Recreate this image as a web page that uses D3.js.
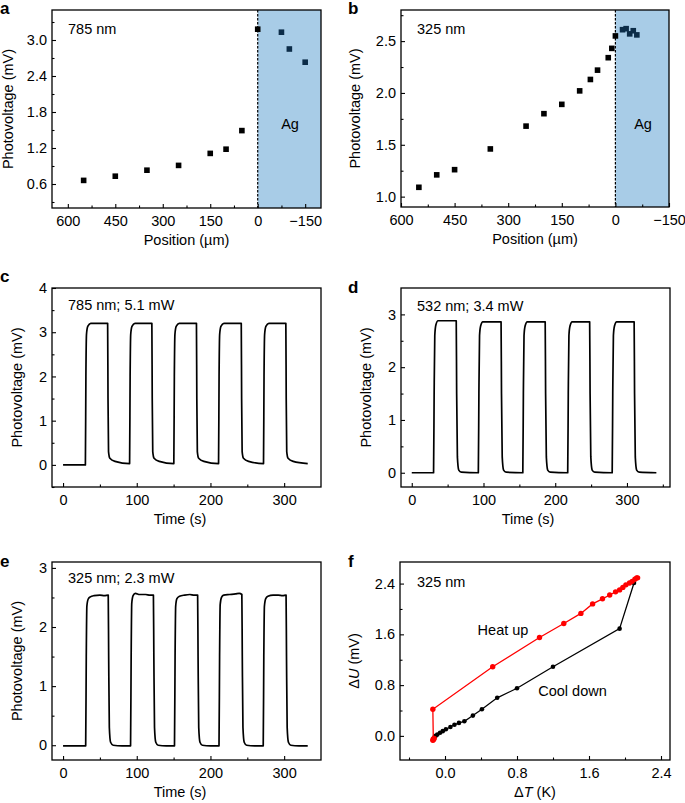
<!DOCTYPE html>
<html lang="en">
<head>
  <meta charset="UTF-8">
  <title>Photovoltage</title>
  <script src="https://cdnjs.cloudflare.com/ajax/libs/d3/7.8.5/d3.min.js"></script>
  <style>
    body { margin: 0; background: #fff; }
    text { font-family: "Liberation Sans", Arial, Helvetica, sans-serif; }
  </style>
</head>
<body>
  <script>
// ---- data ----
// a: 785 nm position scan
var posA = [550, 450, 350, 250, 150, 100, 50, 0, -75, -100, -150];
var pvA  = [0.66, 0.73, 0.83, 0.91, 1.11, 1.18, 1.49, 3.18, 3.13, 2.85, 2.63];

// b: 325 nm position scan
var posB = [550, 500, 450, 350, 250, 200, 150, 100, 70, 50, 20, 10, 0, -20, -30, -40, -50, -60];
var pvB  = [1.09, 1.21, 1.26, 1.46, 1.68, 1.80, 1.89, 2.02, 2.13, 2.22, 2.34, 2.43, 2.55, 2.61, 2.62, 2.57, 2.60, 2.56];

// c: 785 nm; 5.1 mW  [time s, photovoltage mV]
var traceC = [[0,0],[30.3,0],
  [31,2.0],[31.8,2.95],[33.5,3.13],[37.5,3.2],[60.5,3.2],[61,1.5],[61.7,0.3],[63.5,0.15],[70.5,0.08],[90.3,0.03],
  [91,2.0],[91.8,2.95],[93.5,3.13],[97.5,3.2],[120.5,3.2],[121,1.5],[121.7,0.3],[123.5,0.15],[130.5,0.08],[150.3,0.03],
  [151,2.0],[151.8,2.95],[153.5,3.13],[157.5,3.2],[181,3.2],[181.5,1.5],[182.2,0.3],[184,0.15],[191,0.08],[211,0.03],
  [211.7,2.0],[212.5,2.95],[214.2,3.13],[218.2,3.2],[241.8,3.2],[242.3,1.5],[243,0.3],[244.8,0.15],[251.8,0.08],[272,0.03],
  [272.7,2.0],[273.5,2.95],[275.2,3.13],[279.2,3.2],[302.3,3.2],[302.8,1.5],[303.5,0.3],[305.3,0.15],[312.3,0.08],[332,0.03]];

// d: 532 nm; 3.4 mW
var traceD = [[0,0],[30.4,0],
  [31.2,1.5],[32.1,2.6],[33.6,2.8],[36.6,2.88],[62,2.88],[62.6,1.5],[63.6,0.3],[65.5,0.05],[69,0.01],[92.8,0],
  [93.6,1.5],[94.5,2.6],[96,2.78],[99,2.86],[124.5,2.86],[125.1,1.5],[126.1,0.3],[128,0.05],[131.5,0.01],[154.8,0],
  [155.6,1.5],[156.5,2.6],[158,2.78],[161,2.86],[186,2.86],[186.6,1.5],[187.6,0.3],[189.5,0.05],[193,0.01],[217.4,0],
  [218.2,1.5],[219.1,2.6],[220.6,2.78],[223.6,2.86],[248,2.86],[248.6,1.5],[249.6,0.3],[251.5,0.05],[255,0.01],[279.4,0],
  [280.2,1.5],[281.1,2.6],[282.6,2.78],[285.6,2.86],[310,2.86],[310.6,1.5],[311.6,0.3],[313.5,0.05],[317,0.01],[341,0]];

// e: 325 nm; 2.3 mW
var traceE = [[0,-0.01],[30.7,-0.01],
  [31.5,1.5],[32.3,2.35],[34,2.47],[37,2.51],[42,2.53],[50,2.54],[56,2.53],[61.3,2.54],[61.9,1.5],[62.8,0.3],[64.5,0.05],[68,0],[80,-0.01],[91.6,-0.01],
  [92.4,1.5],[93.2,2.4],[95,2.53],[98,2.57],[104,2.55],[112,2.55],[118,2.54],[122.6,2.54],[123.2,1.5],[124.1,0.3],[125.8,0.05],[129,0],[140,-0.01],[151.2,-0.01],
  [152,1.5],[152.8,2.35],[154.5,2.48],[158,2.52],[165,2.54],[172,2.55],[178,2.54],[182.6,2.54],[183.2,1.5],[184.1,0.3],[185.8,0.05],[189,0],[200,-0.01],[211.6,-0.01],
  [212.4,1.5],[213.2,2.38],[215,2.5],[218,2.54],[226,2.55],[234,2.56],[239,2.57],[242.6,2.55],[243.2,1.5],[244.1,0.3],[245.8,0.05],[249,0],[260,-0.01],[271.6,-0.01],
  [272.4,1.5],[273.2,2.35],[275,2.48],[278,2.52],[285,2.54],[292,2.54],[298,2.53],[302.6,2.54],[303.2,1.5],[304.1,0.3],[305.8,0.05],[309,0],[320,-0.01],[332,-0.01]];

// f: 325 nm, dU vs dT  [dT K, dU mV]
var heatUp = [[-0.12,-0.04],[-0.13,-0.06],[-0.135,-0.07],[-0.13,-0.05],[-0.135,0.42],[0.53,1.09],[1.05,1.55],
  [1.32,1.77],[1.51,1.93],[1.64,2.08],[1.75,2.16],[1.83,2.22],[1.895,2.27],[1.94,2.30],[1.976,2.34],[2.01,2.38],
  [2.05,2.41],[2.08,2.435],[2.11,2.47],[2.13,2.49],[2.14,2.49]];
var coolDown = [[2.10,2.41],[1.94,1.69],[1.20,1.09],[0.80,0.75],[0.58,0.60],[0.41,0.42],[0.31,0.32],[0.215,0.23],
  [0.155,0.205],[0.105,0.175],[0.06,0.14],[0.01,0.105],[-0.025,0.075],[-0.055,0.05],[-0.085,0.02],[-0.105,0.0],[-0.115,-0.015]];

// ---- tick labels ----
var posTicks = [600, 450, 300, 150, 0, -150], posMinor = [525, 375, 225, 75, -75];
var ticksYA = [0.6, 1.2, 1.8, 2.4, 3.0], minorYA = [0.3, 0.9, 1.5, 2.1, 2.7, 3.3];
var ticksYB = [1.0, 1.5, 2.0, 2.5], minorYB = [1.25, 1.75, 2.25, 2.75];
var timeTicks = [0, 100, 200, 300], timeMinor = [50, 150, 250];
var ticksF = [0.0, 0.8, 1.6, 2.4];

var FS = 14.5;
var svg = d3.select("body").append("svg")
    .attr("width", 685)
    .attr("height", 803);

var fmtPos = function(d) { return d < 0 ? "\u2212" + Math.abs(d) : d; };

function panel(o) {
  var g = svg.append("g").attr("transform", "translate(" + o.left + "," + o.top + ")");
  var x = d3.scaleLinear().domain(o.xd).range([0, o.w]);
  var y = d3.scaleLinear().domain(o.yd).range([o.h, 0]);
  var marks = g.append("g");

  function ax(sel) {
    sel.select(".domain").remove();
    sel.attr("font-size", FS).attr("font-family", null);
    sel.selectAll("line").attr("stroke-width", 1.1);
  }
  g.append("g").attr("transform", "translate(0," + o.h + ")")
    .call(d3.axisBottom(x).tickValues(o.xt).tickFormat(o.xf).tickSizeInner(-4).tickSizeOuter(0).tickPadding(8))
    .call(ax);
  g.append("g").attr("transform", "translate(0," + o.h + ")")
    .call(d3.axisBottom(x).tickValues(o.xm).tickFormat("").tickSizeInner(-2.5).tickSizeOuter(0))
    .call(ax);
  g.append("g")
    .call(d3.axisLeft(y).tickValues(o.yt).tickFormat(o.yf).tickSizeInner(-4).tickSizeOuter(0).tickPadding(5))
    .call(ax);
  g.append("g")
    .call(d3.axisLeft(y).tickValues(o.ym).tickFormat("").tickSizeInner(-2.5).tickSizeOuter(0))
    .call(ax);

  g.append("text").attr("x", o.xlx == null ? o.w / 2 : o.xlx).attr("y", o.h + 37)
    .attr("text-anchor", "middle").attr("font-size", FS).html(o.xl);
  g.append("text").attr("transform", "translate(" + o.ylx + "," + (o.h / 2) + ") rotate(-90)")
    .attr("text-anchor", "middle").attr("font-size", FS).html(o.yl);
  g.append("text").attr("x", o.tx).attr("y", o.ty).attr("font-size", FS).text(o.title);
  svg.append("text").attr("x", o.lx).attr("y", o.ly).attr("font-size", 17)
    .attr("font-weight", "bold").text(o.letter);

  return {g: g, x: x, y: y, marks: marks, o: o};
}

function frame(p) {
  p.g.append("rect").attr("width", p.o.w).attr("height", p.o.h)
    .attr("fill", "none").attr("stroke", "#000").attr("stroke-width", 1.3);
}

function scan(p, pos, pv, agX, agY) {
  var x = p.x, y = p.y;
  p.marks.append("rect").attr("x", x(0)).attr("y", 0)
    .attr("width", p.o.w - x(0)).attr("height", p.o.h).attr("fill", "#a8cce7");
  p.marks.append("line").attr("x1", x(0)).attr("x2", x(0)).attr("y1", 0).attr("y2", p.o.h)
    .attr("stroke", "#000").attr("stroke-width", 1.2).attr("stroke-dasharray", "2.5,1.5");
  p.marks.selectAll("rect.pt").data(pos).enter().append("rect").attr("class", "pt")
    .attr("x", function(d) { return x(d) - 2.8; })
    .attr("y", function(d, i) { return y(pv[i]) - 2.8; })
    .attr("width", 5.6).attr("height", 5.6)
    .attr("fill", function(d) { return d < 0 ? "#0c2c48" : "#000"; });
  p.g.append("text").attr("x", agX).attr("y", agY).attr("text-anchor", "middle")
    .attr("font-size", FS).text("Ag");
  frame(p);
}

function trace(p, data) {
  var line = d3.line().x(function(d) { return p.x(d[0]); }).y(function(d) { return p.y(d[1]); })
    .curve(d3.curveMonotoneX);
  p.marks.append("path").datum(data).attr("d", line)
    .attr("fill", "none").attr("stroke", "#000").attr("stroke-width", 1.7).attr("stroke-linejoin", "round");
  frame(p);
}

var pvLabel = "Photovoltage (mV)";
var timeLabel = "Time (s)";

// a
var pa = panel({left: 52, top: 10, w: 269, h: 198, xd: [650, -200], yd: [0.2, 3.5],
  xt: posTicks, xm: posMinor, xf: fmtPos, yt: ticksYA, ym: minorYA, yf: d3.format(".1f"),
  xl: "Position (\u00b5m)", yl: pvLabel, ylx: -39.5, title: "785 nm", tx: 16, ty: 24,
  letter: "a", lx: 0, ly: 14});
scan(pa, posA, pvA, 238, 119);

// b
var pb = panel({left: 401, top: 10, w: 268, h: 197, xd: [600, -150], yd: [0.9, 2.8],
  xt: posTicks, xm: posMinor, xf: fmtPos, yt: ticksYB, ym: minorYB, yf: d3.format(".1f"),
  xl: "Position (\u00b5m)", yl: pvLabel, ylx: -41.5, title: "325 nm", tx: 16, ty: 24,
  letter: "b", lx: 348, ly: 14});
scan(pb, posB, pvB, 242, 119);

// c
var pc = panel({left: 52, top: 288, w: 269, h: 199, xd: [-15, 350], yd: [-0.5, 4],
  xt: timeTicks, xm: timeMinor, xf: d3.format("d"), yt: [0, 1, 2, 3, 4], ym: [-0.5, 0.5, 1.5, 2.5, 3.5], yf: d3.format("d"),
  xl: timeLabel, xlx: 128, yl: pvLabel, ylx: -30, title: "785 nm; 5.1 mW", tx: 16, ty: 22,
  letter: "c", lx: 0, ly: 282});
trace(pc, traceC);

// d
var pd = panel({left: 401, top: 288, w: 269, h: 199, xd: [-15, 360], yd: [-0.27, 3.5],
  xt: timeTicks, xm: [50, 150, 250, 350], xf: d3.format("d"), yt: [0, 1, 2, 3], ym: [0.5, 1.5, 2.5], yf: d3.format("d"),
  xl: timeLabel, xlx: 127, yl: pvLabel, ylx: -30.5, title: "532 nm; 3.4 mW", tx: 16, ty: 23,
  letter: "d", lx: 348, ly: 293});
trace(pd, traceD);

// e
var pe = panel({left: 52, top: 562, w: 269, h: 198, xd: [-15, 350], yd: [-0.25, 3.1],
  xt: timeTicks, xm: timeMinor, xf: d3.format("d"), yt: [0, 1, 2, 3], ym: [0.5, 1.5, 2.5], yf: d3.format("d"),
  xl: timeLabel, xlx: 128, yl: pvLabel, ylx: -30, title: "325 nm; 2.3 mW", tx: 16, ty: 21,
  letter: "e", lx: 0, ly: 567});
trace(pe, traceE);

// f
var pf = panel({left: 400, top: 562, w: 270, h: 198, xd: [-0.5, 2.5], yd: [-0.38, 2.74],
  xt: ticksF, xm: [-0.4, 0.4, 1.2, 2.0], xf: d3.format(".1f"), yt: ticksF, ym: [0.4, 1.2, 2.0], yf: d3.format(".1f"),
  xl: "\u0394<tspan font-style='italic'>T</tspan> (K)",
  yl: "\u0394<tspan font-style='italic'>U</tspan> (mV)", ylx: -41, title: "325 nm", tx: 17, ty: 25,
  letter: "f", lx: 348, ly: 567});

var lineF = d3.line().x(function(d) { return pf.x(d[0]); }).y(function(d) { return pf.y(d[1]); });
pf.marks.append("path").datum(coolDown).attr("d", lineF)
  .attr("fill", "none").attr("stroke", "#000").attr("stroke-width", 1.3);
pf.marks.selectAll("circle.cool").data(coolDown).enter().append("circle").attr("class", "cool")
  .attr("cx", function(d) { return pf.x(d[0]); }).attr("cy", function(d) { return pf.y(d[1]); })
  .attr("r", 2.3).attr("fill", "#000");
pf.marks.append("path").datum(heatUp).attr("d", lineF)
  .attr("fill", "none").attr("stroke", "#f00").attr("stroke-width", 1.3);
pf.marks.selectAll("circle.heat").data(heatUp).enter().append("circle").attr("class", "heat")
  .attr("cx", function(d) { return pf.x(d[0]); }).attr("cy", function(d) { return pf.y(d[1]); })
  .attr("r", 2.7).attr("fill", "#f00");
pf.g.append("text").attr("x", 103).attr("y", 73).attr("text-anchor", "middle").attr("font-size", FS).text("Heat up");
pf.g.append("text").attr("x", 172.5).attr("y", 133.7).attr("text-anchor", "middle").attr("font-size", FS).text("Cool down");
frame(pf);
  </script>
</body>
</html>
